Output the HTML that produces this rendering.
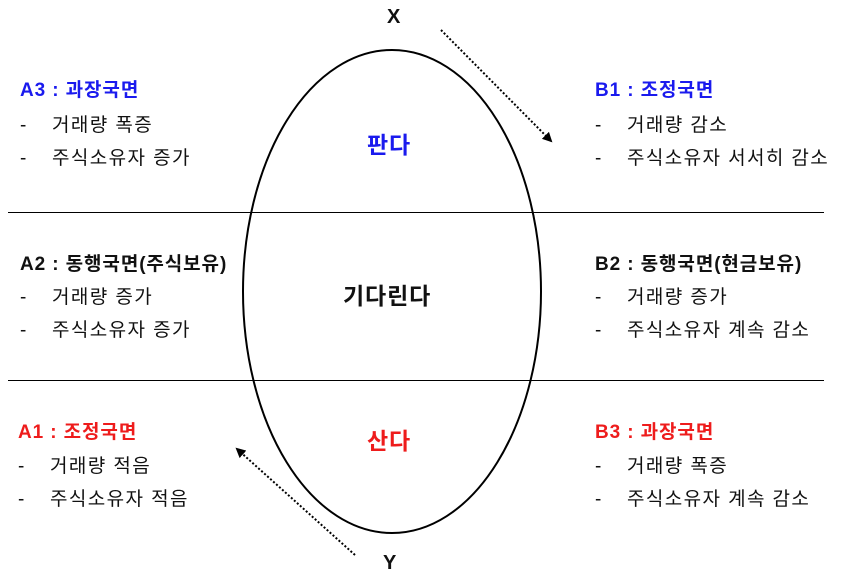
<!DOCTYPE html>
<html><head><meta charset="utf-8"><style>
body{margin:0;background:#fff}
svg text{font-family:"Liberation Sans","Noto Sans CJK KR",sans-serif;font-size:19px;fill:#111;letter-spacing:1.4px}
.b{font-weight:bold;letter-spacing:0.9px}
</style></head><body>
<svg width="842" height="582" viewBox="0 0 842 582" xmlns="http://www.w3.org/2000/svg">
<defs><marker id="ah" markerWidth="10" markerHeight="10" refX="8" refY="5" orient="auto" markerUnits="userSpaceOnUse"><path d="M0,0 L10,5 L0,10 z" fill="#000"/></marker></defs>
<line x1="8" y1="212.5" x2="824" y2="212.5" stroke="#000" stroke-width="1"/>
<line x1="8" y1="380.5" x2="824" y2="380.5" stroke="#000" stroke-width="1"/>
<ellipse cx="392" cy="291.5" rx="149" ry="241.5" fill="none" stroke="#000" stroke-width="2"/>
<line x1="441" y1="30" x2="551" y2="141" stroke="#000" stroke-width="2" stroke-dasharray="2,2" marker-end="url(#ah)"/>
<line x1="355" y1="555" x2="237" y2="449" stroke="#000" stroke-width="2" stroke-dasharray="2,2" marker-end="url(#ah)"/>
<text x="387" y="23" class="b" style="font-size:20px">X</text>
<text x="383" y="569" class="b" style="font-size:20px">Y</text>
<text x="367" y="153" class="b" style="font-size:23px;fill:#1a1aee">판다</text>
<text x="343" y="304" class="b" style="font-size:23px">기다린다</text>
<text x="367" y="449" class="b" style="font-size:23px;fill:#ee1c1c">산다</text>

<text x="20" y="96" class="b" style="fill:#1a1aee">A3 : 과장국면</text>
<text x="20" y="131">-</text><text x="52" y="131">거래량 폭증</text>
<text x="20" y="164">-</text><text x="52" y="164">주식소유자 증가</text>

<text x="20" y="270" class="b">A2 : 동행국면(주식보유)</text>
<text x="20" y="303">-</text><text x="52" y="303">거래량 증가</text>
<text x="20" y="336">-</text><text x="52" y="336">주식소유자 증가</text>

<text x="18" y="438" class="b" style="fill:#ee1c1c">A1 : 조정국면</text>
<text x="18" y="472">-</text><text x="50" y="472">거래량 적음</text>
<text x="18" y="505">-</text><text x="50" y="505">주식소유자 적음</text>

<text x="595" y="96" class="b" style="fill:#1a1aee">B1 : 조정국면</text>
<text x="595" y="131">-</text><text x="627" y="131">거래량 감소</text>
<text x="595" y="164">-</text><text x="627" y="164">주식소유자 서서히 감소</text>

<text x="595" y="270" class="b">B2 : 동행국면(현금보유)</text>
<text x="595" y="303">-</text><text x="627" y="303">거래량 증가</text>
<text x="595" y="336">-</text><text x="627" y="336">주식소유자 계속 감소</text>

<text x="595" y="438" class="b" style="fill:#ee1c1c">B3 : 과장국면</text>
<text x="595" y="472">-</text><text x="627" y="472">거래량 폭증</text>
<text x="595" y="505">-</text><text x="627" y="505">주식소유자 계속 감소</text>
</svg>
</body></html>
